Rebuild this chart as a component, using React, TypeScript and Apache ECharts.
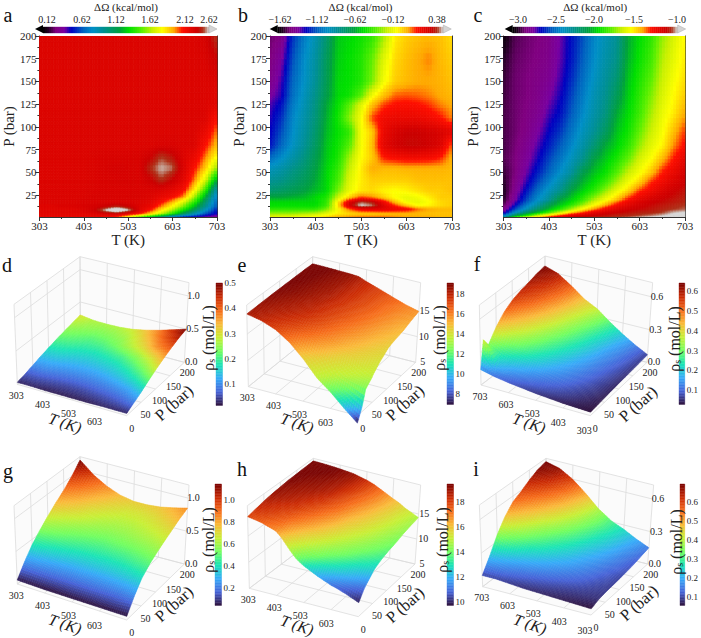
import React, { useEffect, useRef } from "react";
import * as echarts from "echarts";

const FONT = "Liberation Serif";
const TEXT = "#222";

// ---- axis values
const tempTicks = [303, 403, 503, 603, 703];
const tempMinor = [353, 453, 553, 653];
const presTicks = [25, 50, 75, 100, 125, 150, 175, 200];
const presMinor = [12.5, 37.5, 62.5, 87.5, 112.5, 137.5, 162.5, 187.5];

const heatT = [303, 328, 353, 378, 403, 428, 453, 478, 503, 528, 553, 578, 603, 628, 653, 678, 703];

// ---- panel a
const aP = [1, 5, 9, 13, 18, 24, 32, 42, 55, 68, 80, 95, 110, 125, 150, 175, 200];
const aValues = [
  [2.2, 2.2, 2.2, 2.2, 2.2, 2.2, 2.15, 2.05, 1.75, 1.45, 1.2, 0.95, 0.65, 0.45, 0.4, 0.35, 0.3],
  [2.25, 2.25, 2.25, 2.25, 2.25, 2.28, 2.32, 2.36, 2.25, 2.1, 1.9, 1.65, 1.4, 1.1, 0.85, 0.6, 0.45],
  [2.25, 2.25, 2.25, 2.25, 2.28, 2.36, 2.62, 2.85, 2.62, 2.28, 2.1, 1.85, 1.62, 1.35, 1.1, 0.8, 0.5],
  [2.26, 2.26, 2.28, 2.28, 2.3, 2.32, 2.38, 2.46, 2.38, 2.28, 2.2, 2.0, 1.8, 1.55, 1.25, 0.95, 0.6],
  [2.28, 2.28, 2.28, 2.28, 2.3, 2.3, 2.3, 2.3, 2.3, 2.28, 2.25, 2.12, 1.95, 1.72, 1.42, 1.05, 0.65],
  [2.28, 2.28, 2.28, 2.28, 2.28, 2.3, 2.3, 2.3, 2.3, 2.3, 2.28, 2.22, 2.15, 2.0, 1.62, 1.2, 0.72],
  [2.28, 2.28, 2.28, 2.28, 2.28, 2.29, 2.3, 2.3, 2.3, 2.3, 2.3, 2.3, 2.25, 2.15, 1.85, 1.45, 0.88],
  [2.28, 2.28, 2.28, 2.28, 2.28, 2.29, 2.3, 2.31, 2.31, 2.3, 2.36, 2.5, 2.38, 2.25, 2.0, 1.7, 1.2],
  [2.28, 2.28, 2.28, 2.28, 2.28, 2.29, 2.31, 2.32, 2.31, 2.3, 2.48, 2.6, 2.55, 2.3, 2.1, 1.9, 1.58],
  [2.28, 2.28, 2.28, 2.28, 2.28, 2.29, 2.3, 2.3, 2.3, 2.3, 2.36, 2.5, 2.42, 2.28, 2.2, 2.0, 1.8],
  [2.28, 2.28, 2.28, 2.28, 2.28, 2.28, 2.28, 2.28, 2.28, 2.28, 2.28, 2.3, 2.3, 2.28, 2.28, 2.1, 1.92],
  [2.28, 2.28, 2.28, 2.28, 2.28, 2.28, 2.28, 2.28, 2.28, 2.28, 2.28, 2.28, 2.28, 2.28, 2.28, 2.2, 2.0],
  [2.28, 2.28, 2.28, 2.28, 2.28, 2.28, 2.28, 2.28, 2.28, 2.28, 2.28, 2.28, 2.28, 2.28, 2.28, 2.28, 2.1],
  [2.28, 2.28, 2.28, 2.28, 2.28, 2.28, 2.28, 2.28, 2.28, 2.28, 2.28, 2.28, 2.28, 2.28, 2.28, 2.28, 2.25],
  [2.28, 2.28, 2.28, 2.28, 2.28, 2.28, 2.28, 2.28, 2.28, 2.28, 2.28, 2.28, 2.28, 2.28, 2.28, 2.28, 2.28],
  [2.28, 2.28, 2.28, 2.28, 2.28, 2.28, 2.28, 2.28, 2.28, 2.28, 2.28, 2.28, 2.28, 2.28, 2.28, 2.3, 2.38],
  [2.28, 2.28, 2.28, 2.28, 2.28, 2.28, 2.28, 2.28, 2.28, 2.28, 2.28, 2.28, 2.28, 2.28, 2.28, 2.32, 2.5],
];

// ---- panel b
const bP = [1, 5, 10, 14, 18, 23, 30, 42, 55, 67, 80, 95, 110, 125, 135, 150, 175, 200];
const bValues = [
  [-0.12, -0.1, -0.1, -0.08, -0.05, 0, 0.05, 0.08, 0.1, 0.1, 0.1, 0.08, 0.06, 0.05, 0.05, 0.03, 0.03],
  [-0.25, -0.25, -0.25, -0.22, -0.2, -0.12, -0.05, -0.02, 0, 0, 0.02, 0.03, 0.03, 0.03, 0.02, 0.02, 0.02],
  [-0.42, -0.42, -0.42, -0.42, -0.42, -0.3, -0.08, 0.1, 0.22, 0.25, 0.25, 0.22, 0.2, 0.1, 0.05, 0.03, 0.03],
  [-0.5, -0.5, -0.5, -0.5, -0.5, -0.4, -0.02, 0.3, 0.46, 0.42, 0.27, 0.14, 0.02, -0.08, -0.06, -0.02, 0],
  [-0.52, -0.52, -0.52, -0.52, -0.52, -0.42, -0.05, 0.25, 0.4, 0.36, 0.2, 0.02, -0.1, -0.12, -0.08, -0.02, 0],
  [-0.62, -0.62, -0.6, -0.58, -0.52, -0.45, -0.18, 0, 0.12, 0.08, 0, -0.08, -0.12, -0.1, -0.05, 0, 0],
  [-0.75, -0.72, -0.68, -0.64, -0.58, -0.52, -0.3, -0.12, -0.04, -0.02, -0.06, -0.08, -0.06, -0.03, 0, 0, 0.02],
  [-0.85, -0.82, -0.76, -0.7, -0.62, -0.52, -0.38, -0.15, -0.05, 0, 0, 0, 0, 0.02, 0.02, 0.02, 0.02],
  [-0.95, -0.9, -0.82, -0.75, -0.65, -0.53, -0.42, -0.2, -0.05, 0.05, 0.03, 0.03, 0.04, 0.04, 0.04, 0.04, 0.03],
  [-1.1, -1.0, -0.9, -0.8, -0.68, -0.55, -0.46, -0.25, -0.08, 0, 0.15, 0.18, 0.2, 0.2, 0.19, 0.15, 0.04],
  [-1.25, -1.1, -0.97, -0.85, -0.72, -0.56, -0.48, -0.35, -0.1, 0.02, 0.24, 0.3, 0.33, 0.33, 0.31, 0.27, 0.1],
  [-1.28, -1.15, -1.0, -0.88, -0.75, -0.58, -0.5, -0.42, -0.1, 0, 0.22, 0.28, 0.32, 0.32, 0.3, 0.28, 0.25],
  [-1.3, -1.2, -1.02, -0.9, -0.78, -0.6, -0.48, -0.28, -0.1, 0.12, 0.2, 0.22, 0.22, 0.22, 0.2, 0.16, 0.08],
  [-1.33, -1.25, -1.05, -0.93, -0.8, -0.62, -0.5, -0.35, -0.15, 0.02, 0.12, 0.16, 0.17, 0.16, 0.13, 0.08, 0.05],
  [-1.38, -1.3, -1.08, -0.95, -0.82, -0.66, -0.52, -0.48, -0.35, -0.1, 0.02, 0.1, 0.11, 0.1, 0.08, 0.05, 0.03],
  [-1.44, -1.32, -1.1, -0.98, -0.85, -0.68, -0.52, -0.5, -0.45, -0.3, -0.1, 0, 0.03, 0.05, 0.05, 0.04, 0.02],
  [-1.48, -1.38, -1.15, -1.0, -0.88, -0.7, -0.54, -0.5, -0.45, -0.33, -0.15, -0.02, 0.02, 0.05, 0.08, 0.03, 0],
  [-1.5, -1.46, -1.2, -1.05, -0.92, -0.75, -0.55, -0.52, -0.48, -0.42, -0.25, -0.05, 0, 0.02, 0.03, 0.02, -0.02],
];

// ---- panel c
const cP = [1, 3, 6, 10, 15, 20, 30, 40, 50, 65, 80, 95, 115, 135, 155, 175, 200];
const cValues = [
  [-2.3, -1.8, -1.55, -1.4, -1.25, -1.18, -1.13, -1.1, -1.08, -1.07, -1.05, -1.03, -1.0, -0.97, -0.95, -0.95, -0.95],
  [-2.5, -2.1, -1.9, -1.65, -1.45, -1.3, -1.2, -1.15, -1.12, -1.1, -1.08, -1.07, -1.05, -1.03, -1.0, -0.97, -0.95],
  [-2.75, -2.4, -2.15, -1.98, -1.8, -1.6, -1.42, -1.3, -1.2, -1.15, -1.12, -1.1, -1.08, -1.07, -1.05, -1.0, -0.98],
  [-2.88, -2.6, -2.38, -2.18, -2.02, -1.88, -1.7, -1.52, -1.38, -1.26, -1.18, -1.14, -1.12, -1.1, -1.08, -1.06, -1.04],
  [-2.95, -2.72, -2.5, -2.32, -2.12, -2.0, -1.88, -1.72, -1.55, -1.42, -1.28, -1.2, -1.15, -1.12, -1.1, -1.08, -1.06],
  [-3.0, -2.8, -2.6, -2.43, -2.28, -2.06, -1.97, -1.85, -1.68, -1.55, -1.42, -1.28, -1.2, -1.15, -1.12, -1.1, -1.08],
  [-3.02, -2.85, -2.68, -2.52, -2.38, -2.26, -2.07, -1.97, -1.87, -1.72, -1.58, -1.46, -1.32, -1.25, -1.18, -1.13, -1.1],
  [-3.0, -2.88, -2.74, -2.6, -2.47, -2.34, -2.18, -2.03, -1.95, -1.85, -1.7, -1.57, -1.46, -1.32, -1.25, -1.18, -1.13],
  [-2.98, -2.9, -2.78, -2.66, -2.54, -2.42, -2.3, -2.1, -2.0, -1.93, -1.8, -1.65, -1.55, -1.44, -1.3, -1.22, -1.15],
  [-2.95, -2.9, -2.82, -2.72, -2.6, -2.5, -2.38, -2.26, -2.08, -1.99, -1.9, -1.78, -1.63, -1.54, -1.42, -1.3, -1.2],
  [-2.96, -2.91, -2.85, -2.76, -2.66, -2.56, -2.45, -2.33, -2.2, -2.05, -1.97, -1.87, -1.72, -1.6, -1.52, -1.38, -1.28],
  [-2.96, -2.92, -2.88, -2.8, -2.7, -2.62, -2.5, -2.38, -2.28, -2.15, -2.0, -1.92, -1.78, -1.65, -1.55, -1.43, -1.32],
  [-2.96, -2.92, -2.89, -2.85, -2.75, -2.68, -2.56, -2.44, -2.33, -2.23, -2.05, -1.95, -1.84, -1.7, -1.58, -1.5, -1.4],
  [-2.97, -2.92, -2.9, -2.87, -2.8, -2.72, -2.6, -2.48, -2.36, -2.27, -2.13, -1.98, -1.87, -1.75, -1.62, -1.53, -1.45],
  [-2.98, -2.92, -2.9, -2.88, -2.84, -2.75, -2.64, -2.52, -2.4, -2.3, -2.2, -2.0, -1.9, -1.8, -1.65, -1.56, -1.48],
  [-3.0, -2.93, -2.91, -2.89, -2.86, -2.77, -2.67, -2.55, -2.43, -2.33, -2.25, -2.03, -1.93, -1.84, -1.68, -1.59, -1.5],
  [-3.05, -2.95, -2.92, -2.9, -2.87, -2.78, -2.68, -2.58, -2.45, -2.36, -2.28, -2.05, -1.95, -1.87, -1.72, -1.62, -1.52],
];

// ---- colour bar labels of the top row
const aBarValues = [0.12, 0.62, 1.12, 1.62, 2.12, 2.62];
const aBarLabels = ["0.12", "0.62", "1.12", "1.62", "2.12", "2.62"];
const bBarValues = [-1.62, -1.12, -0.62, -0.12, 0.38];
const bBarLabels = ["−1.62", "−1.12", "−0.62", "−0.12", "0.38"];
const cBarValues = [-3.0, -2.5, -2.0, -1.5, -1.0];
const cBarLabels = ["−3.0", "−2.5", "−2.0", "−1.5", "−1.0"];

// ---- surfaces: rows are pressure, columns are temperature
const surfT = [303, 353, 403, 453, 503, 553, 603, 653, 703];
const surfP = [0, 25, 50, 75, 100, 125, 150, 175, 200];
const fP = [0, 10, 25, 50, 75, 100, 125, 150, 175, 200];

const dValues = [
  [0.03, 0.03, 0.025, 0.025, 0.025, 0.025, 0.03, 0.03, 0.03],
  [0.06, 0.06, 0.055, 0.05, 0.05, 0.055, 0.06, 0.07, 0.09],
  [0.1, 0.1, 0.09, 0.085, 0.085, 0.09, 0.1, 0.115, 0.15],
  [0.14, 0.135, 0.125, 0.12, 0.12, 0.13, 0.145, 0.175, 0.22],
  [0.175, 0.17, 0.155, 0.15, 0.155, 0.165, 0.19, 0.23, 0.29],
  [0.21, 0.2, 0.185, 0.18, 0.19, 0.205, 0.24, 0.29, 0.35],
  [0.24, 0.225, 0.21, 0.215, 0.235, 0.27, 0.31, 0.37, 0.41],
  [0.27, 0.25, 0.24, 0.245, 0.26, 0.3, 0.35, 0.41, 0.46],
  [0.3, 0.27, 0.265, 0.27, 0.29, 0.33, 0.38, 0.44, 0.5],
];
const eValues = [
  [18.3, 17.9, 17.2, 16, 14.5, 13.5, 12, 10, 7],
  [18.5, 18.2, 17.7, 17, 16, 15, 13.8, 13, 12.5],
  [18.7, 18.4, 18.1, 17.6, 16.8, 15.9, 14.9, 14.2, 13.6],
  [18.9, 18.6, 18.3, 17.9, 17.2, 16.3, 15.5, 14.7, 14.1],
  [19, 18.8, 18.5, 18.1, 17.4, 16.7, 15.9, 15.1, 14.5],
  [19.1, 18.9, 18.6, 18.3, 17.6, 16.9, 16.2, 15.4, 14.8],
  [19.2, 19, 18.7, 18.4, 17.7, 17.1, 16.4, 15.7, 15],
  [19.3, 19.1, 18.8, 18.5, 17.8, 17.2, 16.5, 15.9, 15.4],
  [19.3, 19.2, 18.9, 18.6, 17.9, 17.3, 16.7, 16.1, 15.7],
];
const fValues = [
  [0.03, 0.035, 0.04, 0.05, 0.06, 0.075, 0.09, 0.11, 0.14],
  [0.032, 0.04, 0.055, 0.07, 0.085, 0.1, 0.125, 0.18, 0.39],
  [0.035, 0.05, 0.07, 0.09, 0.11, 0.14, 0.18, 0.23, 0.31],
  [0.04, 0.065, 0.09, 0.125, 0.16, 0.21, 0.27, 0.33, 0.42],
  [0.045, 0.075, 0.11, 0.15, 0.2, 0.26, 0.33, 0.41, 0.5],
  [0.05, 0.085, 0.125, 0.175, 0.235, 0.3, 0.38, 0.47, 0.55],
  [0.055, 0.095, 0.14, 0.2, 0.265, 0.34, 0.43, 0.52, 0.58],
  [0.06, 0.105, 0.155, 0.22, 0.295, 0.375, 0.47, 0.55, 0.6],
  [0.065, 0.115, 0.175, 0.25, 0.33, 0.41, 0.5, 0.58, 0.625],
  [0.07, 0.13, 0.2, 0.28, 0.37, 0.43, 0.52, 0.6, 0.64],
];
const gValues = [
  [0.06, 0.055, 0.05, 0.05, 0.05, 0.05, 0.05, 0.05, 0.05],
  [0.25, 0.23, 0.21, 0.2, 0.2, 0.2, 0.2, 0.21, 0.24],
  [0.42, 0.38, 0.35, 0.33, 0.33, 0.33, 0.34, 0.36, 0.4],
  [0.55, 0.51, 0.47, 0.44, 0.43, 0.43, 0.44, 0.47, 0.5],
  [0.67, 0.61, 0.56, 0.53, 0.51, 0.52, 0.53, 0.55, 0.58],
  [0.78, 0.71, 0.65, 0.6, 0.58, 0.58, 0.6, 0.62, 0.65],
  [0.88, 0.8, 0.71, 0.66, 0.63, 0.63, 0.65, 0.68, 0.72],
  [1.0, 0.89, 0.79, 0.72, 0.68, 0.68, 0.7, 0.74, 0.79],
  [1.15, 0.98, 0.86, 0.78, 0.74, 0.74, 0.76, 0.8, 0.85],
];
const hValues = [
  [17.9, 17.5, 16.8, 14.8, 13, 12, 11.1, 10.6, 10],
  [18.3, 18, 17.4, 16.1, 14.7, 13.6, 12.8, 12, 11.4],
  [18.7, 18.3, 17.9, 17, 15.9, 14.7, 13.9, 13.1, 12.6],
  [19, 18.7, 18.3, 17.6, 16.6, 15.5, 14.6, 13.9, 13.3],
  [19.2, 18.9, 18.6, 18.1, 17.2, 16, 15.2, 14.4, 13.8],
  [19.4, 19.1, 18.9, 18.5, 17.6, 16.5, 15.6, 14.8, 14.1],
  [19.5, 19.3, 19.1, 18.7, 17.9, 16.9, 15.9, 15.1, 14.4],
  [19.6, 19.5, 19.3, 18.9, 18.2, 17.2, 16.2, 15.3, 14.6],
  [19.7, 19.6, 19.4, 19.1, 18.4, 17.4, 16.4, 15.5, 14.8],
];
const iValues = [
  [0.055, 0.06, 0.065, 0.07, 0.075, 0.08, 0.09, 0.1, 0.1],
  [0.08, 0.085, 0.09, 0.1, 0.115, 0.13, 0.15, 0.18, 0.22],
  [0.09, 0.1, 0.12, 0.14, 0.165, 0.195, 0.23, 0.29, 0.36],
  [0.095, 0.115, 0.145, 0.18, 0.215, 0.26, 0.31, 0.39, 0.47],
  [0.1, 0.13, 0.17, 0.21, 0.26, 0.31, 0.38, 0.47, 0.55],
  [0.11, 0.15, 0.195, 0.24, 0.3, 0.37, 0.45, 0.53, 0.59],
  [0.12, 0.165, 0.22, 0.27, 0.34, 0.42, 0.51, 0.59, 0.64],
  [0.135, 0.185, 0.24, 0.3, 0.37, 0.46, 0.56, 0.64, 0.68],
  [0.15, 0.2, 0.26, 0.31, 0.39, 0.5, 0.6, 0.67, 0.7],
];

// ---- colour maps
const rainbowStops: [number, string][] = [
  [0, "#000000"], [0.03, "#200020"], [0.08, "#800080"], [0.13, "#7a00a0"], [0.17, "#0000c0"],
  [0.24, "#0060c0"], [0.3, "#0090c8"], [0.36, "#009098"], [0.46, "#00a040"], [0.52, "#00e000"],
  [0.6, "#60f000"], [0.66, "#c8f000"], [0.72, "#ffff00"], [0.79, "#ffa800"], [0.84, "#ff1000"],
  [0.93, "#cc0000"], [0.965, "#b03018"], [0.985, "#c09080"], [1, "#d8d8d8"],
];
const turboStops: [number, string][] = [
  "#30123b", "#4662d7", "#36aaf9", "#1ae4b6", "#72fe5e", "#c8ef34", "#faba39", "#f66b19", "#ca2a04", "#7a0403",
].map((c, i) => [i / 9, c] as [number, string]);

const rgbOf = (h: string) => [1, 3, 5].map((k) => parseInt(h.slice(k, k + 2), 16));
const rampColor = (stops: [number, string][], f: number) => {
  const x = Math.max(0, Math.min(1, f));
  let k = 0;
  while (k < stops.length - 2 && x > stops[k + 1][0]) k++;
  const [f0, c0] = stops[k];
  const [f1, c1] = stops[k + 1];
  const u = (x - f0) / (f1 - f0);
  const a = rgbOf(c0);
  const b = rgbOf(c1);
  return `rgb(${[0, 1, 2].map((n) => Math.round(a[n] + (b[n] - a[n]) * u)).join(",")})`;
};
const pieceMap = (xs: number[], ys: number[], v: number) => {
  if (v <= xs[0]) return ys[0] + (v - xs[0]) * ((ys[1] - ys[0]) / (xs[1] - xs[0]));
  for (let k = 0; k < xs.length - 1; k++) {
    if (v <= xs[k + 1]) return ys[k] + ((v - xs[k]) * (ys[k + 1] - ys[k])) / (xs[k + 1] - xs[k]);
  }
  const n = xs.length - 1;
  return ys[n] + (v - xs[n]) * ((ys[n] - ys[n - 1]) / (xs[n] - xs[n - 1]));
};

const grids: any[] = [];
const xAxes: any[] = [];
const yAxes: any[] = [];
const seriesList: any[] = [];
const graphics: any[] = [];

const labelStyle = (size: number, extra: any = {}) => ({
  fontFamily: FONT, fontSize: size, color: TEXT, ...extra,
});

const pushText = (text: string, x: number, y: number, size: number, extra: any = {}, rotation = 0) => {
  graphics.push({
    type: "text", x, y, rotation, z: 5,
    style: { text, fontFamily: FONT, fontSize: size, fill: TEXT, align: "center", verticalAlign: "middle", ...extra },
  });
};

// ---------- 2D map with its axes
function addMap(cfg: {
  left: number; width: number; P: number[]; table: number[][]; colorOf: (v: number) => string;
}) {
  const g = grids.length;
  grids.push({ left: cfg.left, top: 36, width: cfg.width, height: 181 });
  const xi = xAxes.length;
  const xBase = { type: "value", gridIndex: g, min: 303, max: 703, splitLine: { show: false } };
  const yBase = { type: "value", gridIndex: g, min: 1, max: 200, splitLine: { show: false } };
  const line = { lineStyle: { color: "#333", width: 1 } };
  xAxes.push({
    ...xBase, position: "bottom", axisLine: line,
    axisTick: { customValues: tempTicks, length: 4, lineStyle: { color: "#333" } },
    axisLabel: { customValues: tempTicks, margin: 3, ...labelStyle(11) },
    name: "T (K)", nameLocation: "middle", nameGap: 15,
    nameTextStyle: { fontFamily: FONT, fontSize: 15, color: TEXT },
  });
  xAxes.push({
    ...xBase, position: "bottom", axisLine: { show: false },
    axisTick: { customValues: tempMinor, length: 2, lineStyle: { color: "#333" } }, axisLabel: { show: false },
  });
  xAxes.push({ ...xBase, position: "top", axisLine: line, axisTick: { show: false }, axisLabel: { show: false } });
  const yi = yAxes.length;
  yAxes.push({
    ...yBase, position: "left", axisLine: line,
    axisTick: { customValues: presTicks, length: 4, lineStyle: { color: "#333" } },
    axisLabel: { customValues: presTicks, margin: 3, ...labelStyle(11) },
    name: "P (bar)", nameLocation: "middle", nameGap: 22, nameRotate: 90,
    nameTextStyle: { fontFamily: FONT, fontSize: 15, color: TEXT },
  });
  yAxes.push({
    ...yBase, position: "left", axisLine: { show: false },
    axisTick: { customValues: presMinor, length: 2, lineStyle: { color: "#333" } }, axisLabel: { show: false },
  });
  yAxes.push({ ...yBase, position: "right", axisLine: line, axisTick: { show: false }, axisLabel: { show: false } });

  const cells: { i: number; j: number }[] = [];
  for (let j = 0; j < cfg.P.length - 1; j++) for (let i = 0; i < heatT.length - 1; i++) cells.push({ i, j });
  const n = 4;
  seriesList.push({
    type: "custom", xAxisIndex: xi, yAxisIndex: yi, silent: true, clip: true,
    data: cells.map(({ i, j }) => [heatT[i], cfg.P[j], cfg.table[j][i]]),
    renderItem: (params: any, api: any) => {
      const { i, j } = cells[params.dataIndex];
      const p0 = api.coord([heatT[i], cfg.P[j]]);
      const p1 = api.coord([heatT[i + 1], cfg.P[j + 1]]);
      const t = cfg.table;
      const children: any[] = [];
      for (let a = 0; a < n; a++) {
        for (let b = 0; b < n; b++) {
          const u = (a + 0.5) / n;
          const w = (b + 0.5) / n;
          const v =
            (t[j][i] * (1 - u) + t[j][i + 1] * u) * (1 - w) + (t[j + 1][i] * (1 - u) + t[j + 1][i + 1] * u) * w;
          const c = cfg.colorOf(v);
          const x = p0[0] + ((p1[0] - p0[0]) * a) / n;
          const y = p0[1] + ((p1[1] - p0[1]) * (b + 1)) / n;
          children.push({
            type: "rect",
            shape: { x, y, width: (p1[0] - p0[0]) / n, height: (p0[1] - p1[1]) / n },
            style: { fill: c, stroke: c, lineWidth: 0.8 },
          });
        }
      }
      return { type: "group", children };
    },
  });
}

// ---------- horizontal rainbow bar
function addTopBar(cfg: { left: number; width: number; fs: number[]; labels: string[] }) {
  const g = grids.length;
  grids.push({ left: cfg.left, top: 25, width: cfg.width, height: 8 });
  const xi = xAxes.length;
  const yi = yAxes.length;
  xAxes.push({
    type: "value", gridIndex: g, min: 0, max: 1, position: "top", splitLine: { show: false },
    axisLine: { show: false }, axisTick: { show: false },
    axisLabel: {
      customValues: cfg.fs, margin: 3, ...labelStyle(10),
      formatter: (v: number) => {
        let best = 0;
        cfg.fs.forEach((f, k) => { if (Math.abs(f - v) < Math.abs(cfg.fs[best] - v)) best = k; });
        return cfg.labels[best];
      },
    },
    name: "ΔΩ (kcal/mol)", nameLocation: "middle", nameGap: 15,
    nameTextStyle: { fontFamily: FONT, fontSize: 11, color: TEXT },
  });
  yAxes.push({ type: "value", gridIndex: g, min: 0, max: 1, show: false });
  const steps = Array.from({ length: 83 }, (_, k) => k / 83);
  seriesList.push({
    type: "custom", xAxisIndex: xi, yAxisIndex: yi, silent: true,
    data: steps.map((f) => [f, 0]),
    renderItem: (_p: any, api: any) => {
      const f = api.value(0);
      const a = api.coord([f, 0]);
      const b = api.coord([f + 1 / 83, 1]);
      const c = rampColor(rainbowStops, f + 0.5 / 83);
      return {
        type: "rect",
        shape: { x: a[0], y: b[1], width: b[0] - a[0], height: a[1] - b[1] },
        style: { fill: c, stroke: c, lineWidth: 0.4 },
      };
    },
  });
  const l = cfg.left;
  const r = cfg.left + cfg.width;
  graphics.push({
    type: "polygon", z: 4, shape: { points: [[l - 8, 29], [l, 25], [l, 33]] }, style: { fill: "#000" },
  });
  graphics.push({
    type: "polygon", z: 4, shape: { points: [[r + 8, 29], [r, 25], [r, 33]] },
    style: { fill: "#d4d4d4", stroke: "#aaa", lineWidth: 0.5 },
  });
}

// ---------- vertical turbo bar
function addSideBar(cfg: { left: number; top: number; height: number; width: number; lo: number; hi: number; ticks: number[]; digits: number }) {
  const g = grids.length;
  grids.push({ left: cfg.left, top: cfg.top, width: cfg.width, height: cfg.height });
  const xi = xAxes.length;
  const yi = yAxes.length;
  xAxes.push({ type: "value", gridIndex: g, min: 0, max: 1, show: false });
  yAxes.push({
    type: "value", gridIndex: g, min: cfg.lo, max: cfg.hi, position: "right", splitLine: { show: false },
    axisLine: { show: false }, axisTick: { show: false },
    axisLabel: {
      customValues: cfg.ticks, margin: 2, ...labelStyle(9),
      formatter: (v: number) => v.toFixed(cfg.digits),
    },
  });
  const N = 80;
  const steps = Array.from({ length: N }, (_, k) => cfg.lo + ((cfg.hi - cfg.lo) * k) / N);
  const dv = (cfg.hi - cfg.lo) / N;
  seriesList.push({
    type: "custom", xAxisIndex: xi, yAxisIndex: yi, silent: true,
    data: steps.map((v) => [0, v]),
    renderItem: (_p: any, api: any) => {
      const v = api.value(1);
      const a = api.coord([0, v]);
      const b = api.coord([1, v + dv]);
      const c = rampColor(turboStops, (v + dv / 2 - cfg.lo) / (cfg.hi - cfg.lo));
      return {
        type: "rect",
        shape: { x: a[0], y: b[1], width: b[0] - a[0], height: a[1] - b[1] },
        style: { fill: c, stroke: c, lineWidth: 0.4 },
      };
    },
  });
}

// ---------- 3D surface panel
type Corner = [number, number, number, number]; // xLow, yLow, xHigh, yHigh in crop pixels
function addSurface(cfg: {
  ox: number; oy: number; L: Corner; F: Corner; B: Corner; R: Corner; P?: number[];
  table: number[][]; reverse: boolean; zLo: number; zHi: number; zTicks: number[]; zDigits: number;
  barLo: number; barHi: number; heightX?: number[]; heightY?: number[];
  titleT: [number, number]; titleP: [number, number]; titleR: [number, number];
}) {
  const rowsP = cfg.P || surfP;
  const pt = (t: number, s: number, zf: number): [number, number] => {
    const pick = (k: number) => {
      const f = cfg.L[k] + (cfg.F[k] - cfg.L[k]) * t;
      const b = cfg.B[k] + (cfg.R[k] - cfg.B[k]) * t;
      return f + (b - f) * s;
    };
    const x = pick(0) + (pick(2) - pick(0)) * zf;
    const y = pick(1) + (pick(3) - pick(1)) * zf;
    return [cfg.ox + x / 3, cfg.oy + y / 3];
  };
  const tOf = (T: number) => (cfg.reverse ? (703 - T) / 400 : (T - 303) / 400);
  const zOf = (z: number) => (z - cfg.zLo) / (cfg.zHi - cfg.zLo);
  const zFrac = (v: number) => zOf(cfg.heightX ? pieceMap(cfg.heightX, cfg.heightY!, v) : v);
  const gridColor = "#dcdcdc";
  const seg = (a: [number, number], b: [number, number], color = gridColor) =>
    graphics.push({
      type: "line", z: 0, silent: true,
      shape: { x1: a[0], y1: a[1], x2: b[0], y2: b[1] },
      style: { stroke: color, lineWidth: 0.8 },
    });
  const wall = (pts: [number, number][]) =>
    graphics.push({ type: "polygon", z: 0, silent: true, shape: { points: pts }, style: { fill: "#fbfbfb" } });
  wall([pt(0, 0, 0), pt(1, 0, 0), pt(1, 1, 0), pt(0, 1, 0)]);
  wall([pt(0, 0, 0), pt(0, 1, 0), pt(0, 1, 1), pt(0, 0, 1)]);
  wall([pt(0, 1, 0), pt(1, 1, 0), pt(1, 1, 1), pt(0, 1, 1)]);

  const tickT = cfg.reverse ? [703, 603, 503, 403, 303] : [303, 403, 503, 603];
  const tickP = [0, 50, 100, 150, 200];
  tickT.forEach((T) => {
    const t = tOf(T);
    seg(pt(t, 0, 0), pt(t, 1, 0));
    seg(pt(t, 1, 0), pt(t, 1, 1));
    const a = pt(t, 0, 0);
    pushText(String(T), a[0] - 1 - 5 * t, a[1] + 11 + 4 * t, 10);
  });
  if (!cfg.reverse) seg(pt(1, 0, 0), pt(1, 1, 0));
  if (!cfg.reverse) seg(pt(1, 1, 0), pt(1, 1, 1));
  tickP.forEach((P) => {
    const s = P / 200;
    seg(pt(0, s, 0), pt(1, s, 0));
    seg(pt(0, s, 0), pt(0, s, 1));
    const a = pt(1, s, 0);
    pushText(String(P), a[0] + 5 - 2 * s, a[1] + 12.5 - 2 * s, 10);
  });
  cfg.zTicks.forEach((z) => {
    const f = zOf(z);
    seg(pt(0, 0, f), pt(0, 1, f));
    seg(pt(0, 1, f), pt(1, 1, f));
    const a = pt(1, 1, f);
    pushText(z.toFixed(cfg.zDigits), a[0] + 7 - 2 * f, a[1] - 0.5, 10);
  });
  seg(pt(0, 0, 1), pt(0, 1, 1));
  seg(pt(0, 1, 1), pt(1, 1, 1));

  pushText("T (K)", cfg.titleT[0], cfg.titleT[1], 16, { fontStyle: "italic" }, -0.33);
  pushText("P (bar)", cfg.titleP[0], cfg.titleP[1], 16.5, {}, 0.73);
  graphics.push({
    type: "text", x: cfg.titleR[0], y: cfg.titleR[1], rotation: Math.PI / 2, z: 5,
    style: {
      text: "{a|ρ}{s|s}{a| (mol/L)}",
      align: "center", verticalAlign: "middle", fill: TEXT,
      fontFamily: FONT, fontSize: 16,
      rich: {
        a: { fontFamily: FONT, fontSize: 16, fill: TEXT },
        s: { fontFamily: FONT, fontSize: 10, fill: TEXT, padding: [6, 0, 0, 0] },
      },
    },
  });

  // cells, far to near
  const cells: { i: number; j: number }[] = [];
  const columns = surfT.slice(0, -1).map((_, i) => i);
  if (cfg.reverse) columns.reverse();
  for (let j = rowsP.length - 2; j >= 0; j--) columns.forEach((i) => cells.push({ i, j }));
  const n = 7;
  const tb = cfg.table;
  seriesList.push({
    type: "custom", coordinateSystem: "none", silent: true,
    data: cells.map(({ i, j }) => [surfT[i], rowsP[j], tb[j][i]]),
    renderItem: (params: any) => {
      const { i, j } = cells[params.dataIndex];
      const at = (u: number, w: number) =>
        (tb[j][i] * (1 - u) + tb[j][i + 1] * u) * (1 - w) + (tb[j + 1][i] * (1 - u) + tb[j + 1][i + 1] * u) * w;
      const point = (u: number, w: number) => {
        const T = surfT[i] + (surfT[i + 1] - surfT[i]) * u;
        const P = rowsP[j] + (rowsP[j + 1] - rowsP[j]) * w;
        return pt(tOf(T), P / 200, zFrac(at(u, w)));
      };
      const children: any[] = [];
      const idx = Array.from({ length: n }, (_, k) => k);
      const uOrder = cfg.reverse ? [...idx].reverse() : idx;
      for (let b = n - 1; b >= 0; b--) {
        uOrder.forEach((a) => {
          const c = rampColor(
            turboStops,
            (at((a + 0.5) / n, (b + 0.5) / n) - cfg.barLo) / (cfg.barHi - cfg.barLo),
          );
          children.push({
            type: "polygon",
            shape: {
              points: [
                point(a / n, b / n), point((a + 1) / n, b / n),
                point((a + 1) / n, (b + 1) / n), point(a / n, (b + 1) / n),
              ],
            },
            style: { fill: c, stroke: c, lineWidth: 0.5 },
          });
        });
      }
      return { type: "group", children };
    },
  });
}

// ---------- assemble
const aF = [47, 82, 116, 150, 185, 209].map((p) => (p - 43) / 166);
const bF = [280, 317, 355, 393, 437].map((p) => (p - 277.7) / 165.6);
const cF = [518, 556, 594, 634, 677].map((p) => (p - 512.7) / 165);
const rain = (vals: number[], fs: number[]) => (v: number) => rampColor(rainbowStops, pieceMap(vals, fs, v));

addMap({ left: 35, width: 182, P: aP, table: aValues, colorOf: rain(aBarValues, aF) });
addMap({ left: 270, width: 182, P: bP, table: bValues, colorOf: rain(bBarValues, bF) });
addMap({ left: 503.7, width: 181.3, P: cP, table: cValues, colorOf: rain(cBarValues, cF) });
addTopBar({ left: 43, width: 166, fs: aF, labels: aBarLabels });
addTopBar({ left: 277.7, width: 165.6, fs: bF, labels: bBarLabels });
addTopBar({ left: 512.7, width: 165, fs: cF, labels: cBarLabels });

addSurface({
  ox: 0, oy: 245, L: [52, 418, 42, 178], F: [380, 512, 388, 250], B: [241, 268, 240, 35], R: [553, 352, 567, 113],
  table: dValues, reverse: false, zLo: 0, zHi: 1.2, zTicks: [0, 0.5, 1], zDigits: 1, barLo: 0.015, barHi: 0.5,
  titleT: [65, 423], titleP: [174, 403], titleR: [208, 338],
});
addSurface({
  ox: 230, oy: 245, L: [55, 425, 50, 180], F: [383, 512, 392, 262], B: [245, 272, 248, 35], R: [557, 352, 572, 113],
  table: eValues, reverse: false, zLo: 5, zHi: 20.5, zTicks: [5, 10, 15], zDigits: 0, barLo: 6.9, barHi: 19.07,
  heightX: [7, 10, 12, 13.5, 14.5, 16, 18.3, 19.3], heightY: [3.6, 5.7, 8, 10, 12.9, 15.4, 18.8, 19.1],
  titleT: [297, 423], titleP: [405, 403], titleR: [439, 338],
});
addSurface({
  ox: 461, oy: 245, L: [60, 420, 55, 180], F: [388, 512, 395, 255], B: [250, 275, 252, 33], R: [558, 352, 575, 113], P: fP,
  table: fValues, reverse: true, zLo: 0, zHi: 0.73, zTicks: [0, 0.3, 0.6], zDigits: 1, barLo: 0.028, barHi: 0.642,
  titleT: [529, 423], titleP: [638, 404], titleR: [674, 339],
});
addSurface({
  ox: 0, oy: 440, L: [52, 432, 42, 197], F: [380, 540, 388, 280], B: [241, 290, 240, 50], R: [553, 372, 567, 135],
  table: gValues, reverse: false, zLo: 0, zHi: 1.2, zTicks: [0, 0.5, 1], zDigits: 1, barLo: 0.045, barHi: 1.148,
  titleT: [65, 624], titleP: [174, 604], titleR: [208, 540],
});
addSurface({
  ox: 230, oy: 440, L: [58, 445, 52, 197], F: [385, 530, 393, 285], B: [250, 300, 250, 55], R: [555, 372, 572, 135],
  table: hValues, reverse: false, zLo: 5, zHi: 20.8, zTicks: [5, 10, 15], zDigits: 0, barLo: 9.76, barHi: 19.43,
  heightX: [9.7, 10, 11, 12, 13, 14, 14.8, 16, 17.8, 19.7], heightY: [7.5, 7.7, 9.5, 10.7, 12, 13, 14.3, 16.3, 18.6, 20.3],
  titleT: [297, 625], titleP: [405, 605], titleR: [442, 540],
});
addSurface({
  ox: 461, oy: 440, L: [65, 440, 55, 195], F: [390, 525, 398, 280], B: [255, 295, 255, 55], R: [560, 372, 578, 135],
  table: iValues, reverse: true, zLo: 0, zHi: 0.73, zTicks: [0, 0.3, 0.6], zDigits: 1, barLo: 0.053, barHi: 0.693,
  titleT: [530, 624], titleP: [639, 603], titleR: [676, 542],
});

addSideBar({ left: 216, top: 283, width: 6.5, height: 122.5, lo: 0.015, hi: 0.5, ticks: [0.1, 0.2, 0.3, 0.4, 0.5], digits: 1 });
addSideBar({ left: 447, top: 283, width: 6.5, height: 121.5, lo: 6.9, hi: 19.07, ticks: [8, 10, 12, 14, 16, 18], digits: 0 });
addSideBar({ left: 679, top: 283, width: 6.5, height: 121.5, lo: 0.028, hi: 0.642, ticks: [0.1, 0.2, 0.3, 0.4, 0.5, 0.6], digits: 1 });
addSideBar({ left: 215, top: 484, width: 6.5, height: 121.5, lo: 0.045, hi: 1.148, ticks: [0.2, 0.4, 0.6, 0.8, 1.0], digits: 1 });
addSideBar({ left: 447, top: 484, width: 6.5, height: 121.5, lo: 9.76, hi: 19.43, ticks: [10, 12, 14, 16, 18], digits: 0 });
addSideBar({ left: 680, top: 484, width: 6.5, height: 121.5, lo: 0.053, hi: 0.693, ticks: [0.1, 0.2, 0.3, 0.4, 0.5, 0.6], digits: 1 });

const panelLetters: [string, number, number][] = [
  ["a", 8, 15], ["b", 243, 15], ["c", 478, 15],
  ["d", 7, 265], ["e", 242, 265], ["f", 477, 264],
  ["g", 8, 471], ["h", 242, 469], ["i", 476, 469],
];
panelLetters.forEach(([s, x, y]) => pushText(s, x, y, 20, { fill: "#111" }));

export default function App() {
  const ref = useRef<HTMLDivElement>(null);
  useEffect(() => {
    document.body.style.margin = "0";
    const chart = echarts.init(ref.current!, undefined, { renderer: "svg" });
    chart.setOption({
      animation: false,
      backgroundColor: "#ffffff",
      grid: grids,
      xAxis: xAxes,
      yAxis: yAxes,
      series: seriesList,
      graphic: { elements: graphics },
    });
    return () => chart.dispose();
  }, []);
  return <div ref={ref} style={{ position: "absolute", left: 0, top: 0, width: 701, height: 638 }} />;
}
